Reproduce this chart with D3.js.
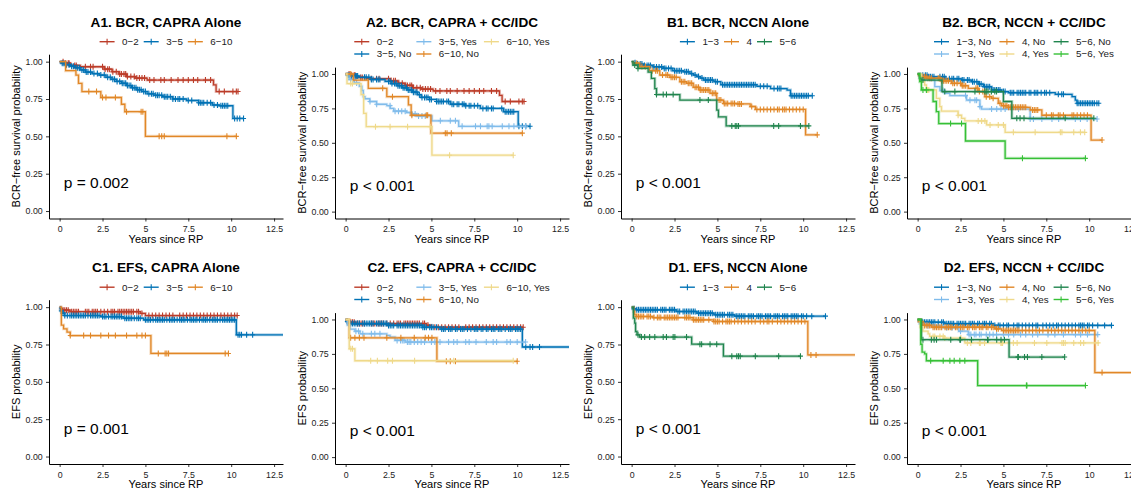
<!DOCTYPE html>
<html><head><meta charset="utf-8">
<script src="https://cdn.jsdelivr.net/npm/d3@7"></script>
<style>body{margin:0;background:#fff} text{font-family:"Liberation Sans",Arial,Helvetica,sans-serif}</style>
</head><body><svg id="c" width="1131" height="491"></svg>
<script>
// ---------- axes ----------
const xTicks = [0, 2.5, 5, 7.5, 10, 12.5];
const xTickLabels = ["0", "2.5", "5", "7.5", "10", "12.5"];
const yTicks = [0, 0.25, 0.5, 0.75, 1];
const yTickLabels = ["0.00", "0.25", "0.50", "0.75", "1.00"];
const xDomain = [-0.62, 13.02];

// ---------- colours ----------
const colRed = "#BC3C29", colBlue = "#0072B5", colOrange = "#E18727", colLtBlue = "#80BCEB",
      colYellow = "#EFD98A", colDkGreen = "#20854E", colGreen = "#36C036";

// ---------- A1 / A2 : BCR, CAPRA ----------
const A_02_steps = [[0.25,0.99],[0.6,0.975],[1.2,0.966],[2.6,0.95],[3.05,0.933],[3.45,0.917],[3.9,0.9],[4.4,0.89],[5.1,0.877],[8.97,0.845],[9.12,0.8]];
const A_02_cens = [0.2,0.35,0.5,0.55,0.88,0.97,1.5,1.8,1.95,2.5,2.65,2.8,2.9,3.1,3.3,3.5,3.6,3.75,3.85,3.95,4.15,4.35,4.5,4.65,4.8,4.95,5.25,5.5,5.9,6.1,6.5,6.9,7.2,7.5,7.8,8.05,8.5,8.8,9.3,9.6,10.1,10.3,10.4];
const A_02_end = 10.4;

const A1_35_steps = [[0.1,0.99],[0.3,0.98],[0.6,0.97],[0.9,0.96],[1.2,0.945],[1.5,0.93],[1.9,0.92],[2.3,0.91],[2.7,0.895],[3.0,0.882],[3.3,0.868],[3.6,0.855],[3.9,0.84],[4.2,0.826],[4.5,0.812],[4.8,0.8],[5.1,0.785],[5.5,0.775],[6.0,0.765],[6.6,0.75],[7.4,0.74],[8.1,0.725],[8.9,0.71],[9.3,0.705],[10.1,0.62]];
const A1_35_cens = [0.15,0.25,0.4,0.55,0.7,0.8,0.95,1.05,1.15,1.3,1.4,1.55,1.65,1.8,2.0,2.2,2.4,2.6,2.8,2.95,3.1,3.2,3.35,3.5,3.65,3.75,3.85,3.95,4.05,4.15,4.25,4.35,4.45,4.55,4.65,4.75,4.9,5.0,5.2,5.35,5.45,5.6,5.7,5.8,5.95,6.1,6.2,6.3,6.45,6.6,6.75,6.9,7.0,7.2,7.5,7.7,8.1,8.2,8.3,8.4,8.6,8.8,9.0,9.2,9.4,9.5,9.6,9.7,9.8,10.2,10.35,10.5,10.72];
const A1_35_end = 10.72;

const A1_610_steps = [[0.35,0.94],[0.95,0.91],[1.1,0.855],[1.3,0.8],[2.4,0.76],[3.6,0.715],[3.8,0.665],[5.0,0.5]];
const A1_610_cens = [1.7,2.15,2.5,2.7,3.25,3.9,4.75,4.85,5.8,5.95,6.1,9.75,10.3];
const A1_610_end = 10.3;

const A2_35n_steps = [[0.1,0.99],[0.3,0.985],[0.8,0.976],[1.5,0.96],[2.3,0.946],[2.7,0.93],[3.0,0.915],[3.3,0.9],[3.6,0.884],[3.9,0.868],[4.2,0.85],[4.4,0.83],[4.9,0.815],[5.3,0.8],[6.1,0.78],[7.0,0.77],[7.85,0.75],[9.2,0.726],[10.06,0.62]];
const A2_35n_cens = [0.15,0.25,0.3,0.35,0.55,0.6,0.65,0.7,1.1,1.2,1.35,1.5,1.6,1.8,1.9,2.0,2.5,2.6,2.7,2.85,2.95,3.05,3.15,3.25,3.35,3.45,3.55,3.65,3.75,3.85,3.95,4.05,4.15,4.3,4.45,4.6,4.7,4.8,4.9,5.0,5.3,5.4,5.5,5.6,5.7,5.9,6.0,6.2,6.3,6.5,6.6,6.8,6.9,7.0,7.2,7.3,7.5,7.7,8.0,8.2,8.3,8.5,8.6,9.1,9.3,9.4,9.5,9.6,9.7,9.8,10.1,10.3,10.5,10.75];
const A2_35n_end = 10.75;

const A2_35y_steps = [[0.2,0.96],[0.5,0.935],[0.8,0.91],[0.95,0.88],[1.03,0.835],[1.13,0.82],[1.4,0.8],[1.8,0.78],[2.4,0.77],[2.6,0.75],[2.8,0.73],[3.55,0.72],[3.85,0.71],[4.15,0.695],[5.03,0.66],[6.59,0.62]];
const A2_35y_cens = [0.29,0.49,0.64,1.42,1.81,2.59,2.88,3.08,3.27,3.47,3.86,4.05,4.25,4.45,4.64,5.52,6.1,6.4,6.79,7.57,7.86,8.25,8.35,8.54,9.13,9.52,9.81,10.49];
const A2_35y_end = 10.49;

const A2_610n_steps = [[0.45,0.956],[1.32,0.896],[2.4,0.835],[3.66,0.775],[3.82,0.7],[4.97,0.57]];
const A2_610n_cens = [0.3,2.16,2.73,3.86,4.7,4.78,5.81,5.91,6.16,10.3];
const A2_610n_end = 10.3;

const A2_610y_steps = [[0.08,0.93],[0.9,0.85],[1.05,0.714],[1.2,0.617],[5.03,0.41]];
const A2_610y_cens = [0.3,0.4,1.74,2.59,3.61,4.93,6.06,9.77];
const A2_610y_end = 9.77;

// ---------- B1 / B2 : BCR, NCCN ----------
const B1_13_steps = [[0.1,0.993],[0.3,0.984],[0.7,0.975],[1.25,0.965],[1.85,0.955],[2.4,0.94],[3.0,0.932],[3.4,0.92],[3.6,0.91],[3.8,0.9],[4.0,0.89],[4.2,0.877],[4.8,0.866],[5.2,0.846],[7.3,0.835],[8.1,0.82],[9.06,0.81],[9.26,0.772]];
const B1_13_cens = [0.2,0.35,0.5,0.6,0.75,0.9,1.0,1.1,1.3,1.45,1.6,1.75,1.9,2.0,2.15,2.3,2.5,2.6,2.7,2.8,2.9,3.1,3.2,3.3,3.5,3.7,3.9,4.1,4.3,4.4,4.5,4.6,4.7,4.9,5.0,5.3,5.4,5.5,5.6,5.7,5.8,5.9,6.0,6.1,6.2,6.3,6.4,6.5,6.6,6.7,6.8,6.9,7.0,7.1,7.2,7.5,7.7,7.9,8.3,8.5,8.6,8.7,9.3,9.4,9.5,9.6,9.7,9.8,9.9,10.0,10.1,10.2,10.3,10.53];
const B1_13_end = 10.53;

const B1_4_steps = [[0.08,0.99],[0.47,0.967],[1.05,0.94],[1.64,0.91],[2.23,0.895],[2.81,0.866],[3.2,0.855],[3.59,0.828],[3.98,0.81],[4.57,0.788],[4.96,0.743],[5.35,0.72],[6.13,0.717],[6.91,0.7],[7.21,0.68],[10.14,0.51]];
const B1_4_cens = [0.3,0.6,0.8,1.2,1.4,1.5,1.8,2.0,2.1,2.3,2.4,2.5,2.6,2.9,3.0,3.1,3.3,3.4,3.5,3.7,3.8,3.9,4.0,4.1,4.2,4.3,4.4,4.5,4.7,4.8,4.9,5.1,5.2,5.4,5.5,5.6,5.8,5.9,6.0,6.2,6.3,6.4,7.0,7.3,7.5,7.7,7.9,8.1,8.3,8.5,8.6,8.8,8.9,9.0,9.2,9.4,9.6,9.8,10.0,10.82];
const B1_4_end = 10.82;

const B1_56_steps = [[0.08,0.977],[0.37,0.955],[0.96,0.93],[1.15,0.888],[1.35,0.82],[1.45,0.78],[2.81,0.743],[4.96,0.676],[5.06,0.63],[5.51,0.57]];
const B1_56_cens = [0.18,0.37,1.45,1.84,2.03,2.42,3.98,4.47,5.84,6.04,6.13,6.23,8.28,8.57,9.84,10.33];
const B1_56_end = 10.33;

const B2_13n_steps = [[0.12,0.99],[0.61,0.98],[1.58,0.965],[2.56,0.956],[3.14,0.944],[3.53,0.927],[3.83,0.908],[4.31,0.884],[4.9,0.872],[5.29,0.864],[8.02,0.852],[9.0,0.835],[9.19,0.81],[9.29,0.787]];
const B2_13n_cens = [0.3,0.45,0.55,0.65,0.75,0.85,0.95,1.3,1.45,1.55,1.65,1.85,2.0,2.1,2.3,2.4,2.6,2.7,2.9,3.0,3.2,3.3,3.45,3.6,3.7,3.9,4.0,4.1,4.2,4.4,4.5,4.6,4.7,4.8,5.0,5.1,5.4,5.5,5.6,5.8,5.9,6.0,6.1,6.2,6.3,6.5,6.6,6.8,6.9,7.0,7.2,7.4,7.5,7.7,8.2,8.4,8.5,9.3,9.4,9.5,9.6,9.7,9.8,9.9,10.0,10.1,10.2,10.3,10.45,10.56];
const B2_13n_end = 10.56;

const B2_13y_steps = [[0.2,0.98],[0.41,0.97],[0.8,0.956],[1.0,0.908],[1.3,0.88],[1.58,0.86],[1.88,0.843],[2.85,0.81],[3.63,0.763],[3.73,0.745],[6.56,0.673]];
const B2_13y_cens = [0.7,1.48,2.79,3.05,3.34,3.44,3.63,4.31,4.61,4.86,5.1,5.88,6.56,6.75,7.24,7.83,8.22,9.19,9.49,9.88,10.46];
const B2_13y_end = 10.46;

const B2_4n_steps = [[0.06,0.99],[0.22,0.98],[0.51,0.969],[1.39,0.95],[1.97,0.932],[2.56,0.915],[2.95,0.896],[3.53,0.872],[3.92,0.835],[4.31,0.823],[4.7,0.787],[4.9,0.77],[5.29,0.758],[6.56,0.739],[7.24,0.7],[10.11,0.52]];
const B2_4n_cens = [0.3,0.4,0.5,0.6,0.7,0.8,1.2,1.3,1.4,1.5,1.6,1.7,1.8,2.05,2.15,2.3,2.5,2.6,2.7,2.8,3.4,3.5,3.6,3.8,3.9,4.0,4.2,4.4,4.8,5.0,5.1,5.2,5.3,5.4,5.5,5.6,5.7,5.8,5.9,6.0,6.1,6.2,6.3,6.7,6.8,6.9,7.0,7.5,7.8,7.9,8.2,8.3,8.5,9.0,9.1,9.3,9.5,9.7,9.9,10.75];
const B2_4n_end = 10.75;

const B2_4y_steps = [[0.22,0.944],[0.41,0.92],[0.51,0.884],[1.09,0.823],[1.29,0.763],[1.39,0.73],[2.36,0.7],[2.56,0.678],[2.75,0.659],[4.02,0.63],[5.1,0.576]];
const B2_4y_cens = [0.57,0.65,2.36,3.53,3.73,3.92,4.22,4.7,5.0,5.58,6.85,8.32,8.41,9.1,9.49,9.74];
const B2_4y_end = 9.74;

const B2_56n_steps = [[0.1,0.97],[0.2,0.956],[1.42,0.872],[5.0,0.8],[5.49,0.678]];
const B2_56n_cens = [0.31,1.58,2.17,3.34,3.92,4.0,4.1,4.3,4.5,4.6,5.78,5.97,6.2,8.6,10.27];
const B2_56n_end = 10.27;

const B2_56y_steps = [[0.12,0.944],[0.22,0.884],[0.9,0.8],[1.09,0.726],[1.23,0.64],[2.79,0.513],[5.1,0.387]];
const B2_56y_cens = [0.31,0.51,1.92,2.56,6.11,9.78];
const B2_56y_end = 9.78;

// ---------- C1 / C2 : EFS, CAPRA ----------
const C_02_steps = [[0.05,0.99],[0.15,0.98],[0.6,0.97],[4.7,0.958],[5.0,0.944]];
const C_02_cens = [0.2,0.3,0.4,0.5,0.7,0.8,0.9,1.0,1.1,1.5,1.6,1.7,1.9,2.0,2.1,2.2,2.4,2.6,2.8,3.0,3.1,3.2,3.4,3.5,3.6,3.7,3.8,3.9,4.0,4.1,4.2,4.3,4.5,4.6,4.8,5.2,5.4,5.6,5.8,6.0,6.2,6.4,6.6,7.0,7.2,7.4,7.6,7.8,8.0,8.2,8.4,8.6,8.8,9.0,9.2,9.4,9.6,9.8,10.0,10.2,10.35];
const C_02_end = 10.35;

const C1_35_steps = [[0.03,0.99],[0.08,0.975],[0.15,0.96],[0.3,0.944],[2.4,0.937],[3.7,0.926],[4.9,0.915],[10.3,0.815]];
const C1_35_cens = [0.1,0.2,0.3,0.45,0.6,0.7,0.8,0.9,1.0,1.1,1.2,1.3,1.4,1.5,1.65,1.8,1.9,2.0,2.1,2.2,2.3,2.5,2.6,2.7,2.85,3.0,3.1,3.2,3.3,3.4,3.5,3.6,3.8,3.9,4.0,4.1,4.2,4.35,4.5,4.6,4.7,5.0,5.1,5.2,5.3,5.45,5.6,5.7,5.8,5.9,6.0,6.1,6.25,6.4,6.5,6.6,6.7,6.85,7.0,7.1,7.2,7.3,7.45,7.6,7.7,7.8,7.9,8.0,8.15,8.3,8.4,8.5,8.6,8.75,8.9,9.0,9.1,9.2,9.35,9.5,9.6,9.7,9.8,9.9,10.0,10.1,10.2,10.4,10.5,10.6,10.9,11.25];
const C1_35_end = 13.5;

const C1_610_steps = [[0.1,0.88],[0.23,0.855],[0.43,0.833],[0.62,0.81],[5.32,0.69]];
const C1_610_cens = [0.62,1.4,1.8,2.4,2.85,3.25,3.9,4.5,4.8,5.0,5.75,6.15,6.25,6.35,9.65,9.84];
const C1_610_end = 9.84;

const C2_35n_steps = [[0.05,0.985],[0.2,0.97],[2.5,0.957],[4.5,0.944],[5.5,0.93],[10.3,0.8]];
const C2_35n_cens = [0.1,0.2,0.3,0.4,0.5,0.6,0.7,0.8,1.0,1.1,1.2,1.3,1.4,1.5,1.6,1.8,1.9,2.0,2.1,2.2,2.3,2.4,2.5,2.6,2.7,2.8,3.0,3.1,3.2,3.3,3.4,3.5,3.6,3.7,3.8,3.9,4.0,4.1,4.2,4.3,4.4,4.5,4.6,4.7,4.9,5.0,5.1,5.3,5.6,5.7,5.8,6.0,6.1,6.2,6.4,6.5,6.7,6.8,6.9,7.1,7.3,7.5,7.6,7.7,7.9,8.0,8.2,8.3,8.5,8.6,8.7,8.9,9.0,9.1,9.3,9.5,9.6,9.7,9.9,10.0,10.1,10.2,10.5,10.75,10.9,11.3];
const C2_35n_end = 13.5;

const C2_35y_steps = [[0.1,0.96],[0.25,0.93],[0.54,0.915],[0.84,0.896],[2.4,0.884],[2.59,0.872],[2.88,0.848],[3.47,0.836]];
const C2_35y_cens = [0.6,0.75,1.0,1.5,1.7,2.0,3.0,3.2,3.3,3.4,3.6,3.7,3.8,4.0,4.2,4.4,4.6,5.0,5.2,5.5,6.0,6.3,6.5,7.0,7.2,7.6,8.2,8.6,8.8,9.4,9.6,10.0,10.49];
const C2_35y_end = 10.49;

const C2_610n_steps = [[0.21,0.867],[5.32,0.696]];
const C2_610n_cens = [0.29,0.54,0.8,1.07,2.4,3.22,4.0,4.64,4.83,5.03,5.87,6.1,6.4,10.0];
const C2_610n_end = 10.0;

const C2_610y_steps = [[0.21,0.787],[0.54,0.7]];
const C2_610y_cens = [0.3,0.4,1.46,1.85,2.45,2.73,4.02,6.3,9.77];
const C2_610y_end = 9.77;

// ---------- D1 / D2 : EFS, NCCN ----------
const D1_13_steps = [[0.05,0.99],[0.27,0.982],[2.6,0.971],[3.8,0.96],[4.8,0.949],[6.0,0.94]];
const D1_13_cens = [0.15,0.3,0.4,0.5,0.6,0.7,0.8,0.9,1.0,1.1,1.2,1.3,1.4,1.5,1.7,1.8,1.9,2.0,2.2,2.3,2.4,2.5,2.7,2.8,3.0,3.1,3.2,3.3,3.4,3.5,3.6,3.7,3.9,4.0,4.1,4.2,4.3,4.4,4.5,4.6,4.7,4.9,5.0,5.1,5.2,5.3,5.4,5.6,5.7,5.8,5.9,6.1,6.2,6.3,6.4,6.5,6.6,6.8,6.9,7.0,7.1,7.3,7.4,7.5,7.6,7.8,7.9,8.0,8.1,8.3,8.4,8.5,8.6,8.8,8.9,9.0,9.1,9.3,9.4,9.5,9.6,9.7,9.9,10.0,10.2,10.5,11.3];
const D1_13_end = 11.3;

const D1_4_steps = [[0.12,0.971],[0.18,0.949],[0.27,0.9375],[1.25,0.93],[3.59,0.915],[4.77,0.904],[10.27,0.68]];
const D1_4_cens = [0.3,0.4,0.5,0.6,0.7,0.9,1.0,1.1,1.3,1.5,1.6,1.7,1.9,2.0,2.1,2.2,2.3,2.4,2.5,2.6,2.7,3.1,3.2,3.3,3.4,3.6,3.7,3.8,3.9,4.0,4.1,4.2,4.5,4.8,4.9,5.0,5.1,5.3,5.5,5.6,5.7,5.8,6.0,6.2,6.4,6.6,6.8,7.0,7.2,7.5,7.7,7.9,8.0,8.2,8.5,8.7,8.9,9.1,9.3,9.5,9.7,9.9,10.1,10.45,10.75];
const D1_4_end = 13.5;

const D1_56_steps = [[0.1,0.926],[0.18,0.893],[0.23,0.837],[0.31,0.815],[0.47,0.8],[3.5,0.752],[5.35,0.672]];
const D1_56_cens = [0.37,0.57,0.76,1.05,1.35,1.84,2.03,2.42,2.52,3.2,3.98,4.08,4.57,4.96,5.84,6.13,6.23,6.33,7.21,8.57,9.84];
const D1_56_end = 9.84;

const D2_13n_steps = [[0.05,0.99],[0.2,0.98],[1.58,0.969],[4.4,0.957]];
const D2_13n_cens = [0.2,0.3,0.4,0.5,0.6,0.7,0.8,0.9,1.0,1.2,1.4,1.5,1.7,1.8,1.9,2.0,2.1,2.3,2.4,2.5,2.6,2.7,2.8,3.0,3.1,3.2,3.3,3.5,3.6,3.8,3.9,4.0,4.2,4.3,4.5,4.7,4.8,5.0,5.2,5.3,5.6,5.8,5.9,6.1,6.3,6.5,6.7,6.9,7.0,7.3,7.5,7.7,7.9,8.1,8.2,8.4,8.6,8.8,9.0,9.2,9.4,9.5,9.6,9.7,9.9,10.0,10.2,10.5,10.9,11.3];
const D2_13n_end = 11.3;

const D2_13y_steps = [[0.1,0.97],[0.5,0.955],[1.5,0.94],[2.4,0.915],[2.95,0.89]];
const D2_13y_cens = [0.6,1.0,1.7,2.0,2.5,3.0,3.1,3.3,3.4,3.6,3.7,4.0,4.2,4.4,4.6,5.0,5.3,5.6,6.0,6.3,6.7,7.0,7.6,8.0,8.5,9.2,9.5,9.9,10.5];
const D2_13y_end = 10.5;

const D2_4n_steps = [[0.05,0.985],[0.31,0.957],[0.8,0.944],[4.51,0.932],[4.9,0.92],[10.33,0.614]];
const D2_4n_cens = [0.2,0.4,0.5,0.6,0.7,0.9,1.0,1.1,1.2,1.3,1.4,1.6,1.7,1.8,1.9,2.0,2.2,2.3,2.5,2.6,2.7,2.9,3.0,3.2,3.3,3.4,3.6,3.7,3.8,4.0,4.1,4.3,4.4,4.6,4.7,5.0,5.1,5.2,5.3,5.4,5.5,5.6,5.7,5.8,5.9,6.1,6.3,6.5,6.7,6.9,7.1,7.3,7.6,7.8,8.0,8.2,8.4,8.6,8.8,9.0,9.2,9.4,9.6,9.8,10.0,10.75];
const D2_4n_end = 13.5;

const D2_4y_steps = [[0.15,0.944],[0.31,0.915],[0.61,0.896],[0.7,0.877],[1.5,0.865],[2.75,0.83]];
const D2_4y_cens = [0.9,1.0,1.3,1.49,1.58,2.52,2.9,3.1,3.6,3.65,3.9,4.85,4.9,4.95,5.58,5.8,6.81,7.53,8.41,8.5,8.6,9.1,9.5,9.68,10.52];
const D2_4y_end = 10.56;

const D2_56n_steps = [[0.22,0.853],[5.33,0.727]];
const D2_56n_cens = [0.31,0.8,0.96,1.1,1.93,2.46,2.5,3.14,4.08,4.1,4.61,4.86,5.06,5.84,5.87,6.23,6.4,7.24,8.57];
const D2_56n_end = 8.57;

const D2_56y_steps = [[0.18,0.82],[0.26,0.763],[0.41,0.75],[0.51,0.7],[3.5,0.52]];
const D2_56y_cens = [0.76,1.49,1.88,2.13,2.46,2.75,6.34,6.37,9.78];
const D2_56y_end = 9.78;

// ---------- panel definitions ----------
const ylabBCR = "BCR\u2212free survival probability";
const ylabEFS = "EFS probability";
const M = "\u2212";
const panels = [
  {title:"A1. BCR, CAPRA Alone", ylab:ylabBCR, p:"p = 0.002", series:[
    {label:"0"+M+"2", color:colRed, steps:A_02_steps, cens:A_02_cens, end:A_02_end},
    {label:"3"+M+"5", color:colBlue, steps:A1_35_steps, cens:A1_35_cens, end:A1_35_end},
    {label:"6"+M+"10", color:colOrange, steps:A1_610_steps, cens:A1_610_cens, end:A1_610_end}]},
  {title:"A2. BCR, CAPRA + CC/IDC", ylab:ylabBCR, p:"p < 0.001", series:[
    {label:"0"+M+"2", color:colRed, steps:A_02_steps, cens:A_02_cens, end:A_02_end},
    {label:"3"+M+"5, No", color:colBlue, steps:A2_35n_steps, cens:A2_35n_cens, end:A2_35n_end},
    {label:"3"+M+"5, Yes", color:colLtBlue, steps:A2_35y_steps, cens:A2_35y_cens, end:A2_35y_end},
    {label:"6"+M+"10, No", color:colOrange, steps:A2_610n_steps, cens:A2_610n_cens, end:A2_610n_end},
    {label:"6"+M+"10, Yes", color:colYellow, steps:A2_610y_steps, cens:A2_610y_cens, end:A2_610y_end}]},
  {title:"B1. BCR, NCCN Alone", ylab:ylabBCR, p:"p < 0.001", series:[
    {label:"1"+M+"3", color:colBlue, steps:B1_13_steps, cens:B1_13_cens, end:B1_13_end},
    {label:"4", color:colOrange, steps:B1_4_steps, cens:B1_4_cens, end:B1_4_end},
    {label:"5"+M+"6", color:colDkGreen, steps:B1_56_steps, cens:B1_56_cens, end:B1_56_end}]},
  {title:"B2. BCR, NCCN + CC/IDC", ylab:ylabBCR, p:"p < 0.001", series:[
    {label:"1"+M+"3, No", color:colBlue, steps:B2_13n_steps, cens:B2_13n_cens, end:B2_13n_end},
    {label:"1"+M+"3, Yes", color:colLtBlue, steps:B2_13y_steps, cens:B2_13y_cens, end:B2_13y_end},
    {label:"4, No", color:colOrange, steps:B2_4n_steps, cens:B2_4n_cens, end:B2_4n_end},
    {label:"4, Yes", color:colYellow, steps:B2_4y_steps, cens:B2_4y_cens, end:B2_4y_end},
    {label:"5"+M+"6, No", color:colDkGreen, steps:B2_56n_steps, cens:B2_56n_cens, end:B2_56n_end},
    {label:"5"+M+"6, Yes", color:colGreen, steps:B2_56y_steps, cens:B2_56y_cens, end:B2_56y_end}]},
  {title:"C1. EFS, CAPRA Alone", ylab:ylabEFS, p:"p = 0.001", series:[
    {label:"0"+M+"2", color:colRed, steps:C_02_steps, cens:C_02_cens, end:C_02_end},
    {label:"3"+M+"5", color:colBlue, steps:C1_35_steps, cens:C1_35_cens, end:C1_35_end},
    {label:"6"+M+"10", color:colOrange, steps:C1_610_steps, cens:C1_610_cens, end:C1_610_end}]},
  {title:"C2. EFS, CAPRA + CC/IDC", ylab:ylabEFS, p:"p < 0.001", series:[
    {label:"0"+M+"2", color:colRed, steps:C_02_steps, cens:C_02_cens, end:C_02_end},
    {label:"3"+M+"5, No", color:colBlue, steps:C2_35n_steps, cens:C2_35n_cens, end:C2_35n_end},
    {label:"3"+M+"5, Yes", color:colLtBlue, steps:C2_35y_steps, cens:C2_35y_cens, end:C2_35y_end},
    {label:"6"+M+"10, No", color:colOrange, steps:C2_610n_steps, cens:C2_610n_cens, end:C2_610n_end},
    {label:"6"+M+"10, Yes", color:colYellow, steps:C2_610y_steps, cens:C2_610y_cens, end:C2_610y_end}]},
  {title:"D1. EFS, NCCN Alone", ylab:ylabEFS, p:"p < 0.001", series:[
    {label:"1"+M+"3", color:colBlue, steps:D1_13_steps, cens:D1_13_cens, end:D1_13_end},
    {label:"4", color:colOrange, steps:D1_4_steps, cens:D1_4_cens, end:D1_4_end},
    {label:"5"+M+"6", color:colDkGreen, steps:D1_56_steps, cens:D1_56_cens, end:D1_56_end}]},
  {title:"D2. EFS, NCCN + CC/IDC", ylab:ylabEFS, p:"p < 0.001", series:[
    {label:"1"+M+"3, No", color:colBlue, steps:D2_13n_steps, cens:D2_13n_cens, end:D2_13n_end},
    {label:"1"+M+"3, Yes", color:colLtBlue, steps:D2_13y_steps, cens:D2_13y_cens, end:D2_13y_end},
    {label:"4, No", color:colOrange, steps:D2_4n_steps, cens:D2_4n_cens, end:D2_4n_end},
    {label:"4, Yes", color:colYellow, steps:D2_4y_steps, cens:D2_4y_cens, end:D2_4y_end},
    {label:"5"+M+"6, No", color:colDkGreen, steps:D2_56n_steps, cens:D2_56n_cens, end:D2_56n_end},
    {label:"5"+M+"6, Yes", color:colGreen, steps:D2_56y_steps, cens:D2_56y_cens, end:D2_56y_end}]}
];

// ---------- drawing ----------
const svg = d3.select("#c");
const COLW = 286, L0 = 49, PW = 234, ROWDY = 245.5;
const survAt = (steps, t) => { let s = 1; for (const st of steps) { if (st[0] <= t) s = st[1]; } return s; };

panels.forEach((p, i) => {
  const col = i % 4, row = Math.floor(i / 4);
  const L = L0 + col * COLW;
  const twoRow = p.series.length > 3;
  const top = (twoRow ? 67.1 : 54.2) + row * ROWDY;
  const bottom = 218.5 + row * ROWDY;
  const x = d3.scaleLinear().domain(xDomain).range([L, L + PW]);
  const y = d3.scaleLinear().domain([-0.05, 1.05]).range([bottom, top]);
  const g = svg.append("g");

  const clipId = "clip" + i;
  g.append("clipPath").attr("id", clipId).append("rect")
    .attr("x", L).attr("y", top - 4).attr("width", PW).attr("height", bottom - top + 4);

  // title
  g.append("text").attr("x", L + PW / 2).attr("y", 26.8 + row * ROWDY)
    .attr("text-anchor", "middle").attr("font-size", 13.6).attr("font-weight", "bold").attr("fill", "#000").text(p.title);

  // legend
  const lg = g.append("g");
  const KEY = 15, KGAP = 7.5, IGAP = 5;
  const items = p.series.map(s => {
    const it = lg.append("g");
    it.append("line").attr("x1", 0).attr("x2", KEY).attr("y1", 0).attr("y2", 0).attr("stroke", s.color).attr("stroke-width", 1.4);
    it.append("line").attr("x1", KEY / 2).attr("x2", KEY / 2).attr("y1", -3).attr("y2", 3).attr("stroke", s.color).attr("stroke-width", 1.1);
    const t = it.append("text").attr("x", KEY + KGAP).attr("y", 3.4).attr("font-size", 9.8).attr("fill", "#1a1a1a").text(s.label);
    return {g: it, w: t.node().getComputedTextLength()};
  });
  const rowY1 = 41.7 + row * ROWDY, rowY2 = 54 + row * ROWDY;
  if (!twoRow) {
    const total = d3.sum(items, d => KEY + KGAP + d.w) + IPAD(items.length);
    function IPAD(n) { return (n - 1) * IGAP; }
    let cx = L + PW / 2 - total / 2;
    items.forEach(d => { d.g.attr("transform", `translate(${cx},${rowY1})`); cx += KEY + KGAP + d.w + IGAP; });
  } else {
    const ncol = Math.ceil(items.length / 2);
    const colW = [];
    for (let c = 0; c < ncol; c++) {
      const a = items[2 * c], b = items[2 * c + 1];
      colW.push(KEY + KGAP + Math.max(a ? a.w : 0, b ? b.w : 0));
    }
    const total = d3.sum(colW) + (ncol - 1) * IGAP;
    let cx = L + PW / 2 - total / 2;
    for (let c = 0; c < ncol; c++) {
      const a = items[2 * c], b = items[2 * c + 1];
      if (a) a.g.attr("transform", `translate(${cx},${rowY1})`);
      if (b) b.g.attr("transform", `translate(${cx},${rowY2})`);
      cx += colW[c] + IGAP;
    }
  }

  // curves
  const cg = g.append("g").attr("clip-path", `url(#${clipId})`);
  p.series.forEach(s => {
    const pts = [[0, 1]];
    let prev = 1;
    s.steps.forEach(st => { pts.push([st[0], prev]); pts.push([st[0], st[1]]); prev = st[1]; });
    pts.push([s.end, prev]);
    const line = d3.line().x(d => x(d[0])).y(d => y(d[1]));
    cg.append("path").attr("d", line(pts)).attr("fill", "none").attr("stroke", s.color)
      .attr("stroke-width", 3).attr("stroke-opacity", 0.3).attr("stroke-linejoin", "miter");
    cg.append("path").attr("d", line(pts)).attr("fill", "none").attr("stroke", s.color)
      .attr("stroke-width", 1.3).attr("stroke-linejoin", "miter");
    s.cens.forEach(t => {
      const cx = x(t), cy = y(survAt(s.steps, t));
      cg.append("line").attr("x1", cx).attr("x2", cx).attr("y1", cy - 3).attr("y2", cy + 3).attr("stroke", s.color).attr("stroke-width", 1.1);
      cg.append("line").attr("x1", cx - 2.5).attr("x2", cx + 2.5).attr("y1", cy).attr("y2", cy).attr("stroke", s.color).attr("stroke-width", 1.1);
    });
  });

  // p-value
  g.append("text").attr("x", x(0.24)).attr("y", y(0.19) + 5.5).attr("font-size", 15.5).attr("fill", "#000").text(p.p);

  // axes
  const xa = g.append("g").attr("transform", `translate(0,${bottom})`)
    .call(d3.axisBottom(x).tickValues(xTicks).tickFormat((d, k) => xTickLabels[k]).tickSize(3).tickSizeOuter(0).tickPadding(4.5));
  const ya = g.append("g").attr("transform", `translate(${L},0)`)
    .call(d3.axisLeft(y).tickValues(yTicks).tickFormat((d, k) => yTickLabels[k]).tickSize(3).tickSizeOuter(0).tickPadding(3.3));
  [xa, ya].forEach(a => {
    a.select(".domain").attr("stroke", "#000").attr("stroke-width", 1);
    a.selectAll(".tick line").attr("stroke", "#000").attr("stroke-width", 0.8);
    a.selectAll(".tick text").attr("font-size", 8.8).attr("fill", "#222").attr("font-family", '"Liberation Sans",Arial,sans-serif');
  });

  // axis titles
  g.append("text").attr("x", L + PW / 2).attr("y", bottom + 24.4).attr("text-anchor", "middle")
    .attr("font-size", 11).attr("fill", "#000").text("Years since RP");
  g.append("text").attr("transform", `translate(${L - 29},${(top + bottom) / 2}) rotate(-90)`)
    .attr("text-anchor", "middle").attr("font-size", 11).attr("fill", "#000").text(p.ylab);
});
</script>
</body></html>
